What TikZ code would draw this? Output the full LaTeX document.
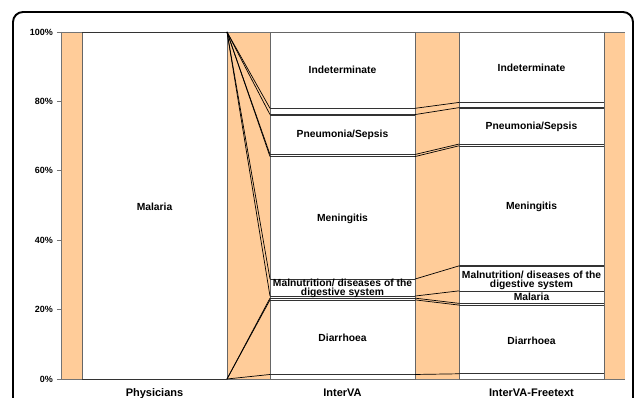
\documentclass[tikz,border=0pt]{standalone}
\usepackage{fontspec}
\setmainfont{Liberation Sans}
\usetikzlibrary{positioning}
\definecolor{gapfill}{HTML}{FFCC99}
\tikzset{
    bar/.style = {draw=black!60, fill=white, line width=0.7pt},
    bline/.style = {draw=black!80, line width=0.6pt},
    sline/.style = {draw=black, line width=0.7pt},
    lbl/.style = {align=center, inner sep=0pt, text centered, font=\bfseries\fontsize{10.3}{8.6}\selectfont},
    ylbl/.style = {anchor=east, inner sep=0pt, font=\bfseries\fontsize{9}{10}\selectfont},
    xlbl/.style = {anchor=north, inner sep=0pt, font=\bfseries\fontsize{11}{12}\selectfont},
    axis/.style = {draw=black!55, line width=0.8pt}
}

\begin{document}
\begin{tikzpicture}[x=1pt, y=3.47pt]
    \useasboundingbox (-61,-5.19) rectangle (573,109.22);
    \draw[line width=1.9pt, rounded corners=10pt] (-48,-20) -- (-48,105.76) -- (572,105.76) -- (572,-20);
    \fill[gapfill] (0,0) rectangle (564,100);
    \draw[axis] (0,100) -- (0,0) -- (564,0);
    \draw[axis] (0,100) -- (564,100);
    \foreach \t in {0,20,...,100} {
        \draw[axis] (-4,\t) -- (0,\t);
        \node[ylbl] (tick\t) at (-8,\t) {\t\%};
    }
    \foreach \xl/\vals in {21/{0,100},
                           209/{1.3,22.8,23.3,23.9,28.8,64.1,64.7,76.0,76.3,78.0},
                           398/{1.5,21.3,21.8,25.4,32.4,32.7,67.2,67.7,78.0,78.3,79.7}} {
        \draw[bar] (\xl,0) rectangle ++(145,100);
        \foreach \v in \vals {
            \draw[bline] (\xl,\v) -- ++(145,0);
        }
    }
    \foreach \p/\i/\f [count=\k] in {0/1.3/1.5, 0/22.8/21.3, 0/23.3/21.8, 100/23.9/25.4, 100/28.8/32.6,
                                     100/64.1/67.2, 100/64.7/67.7, 100/76.2/78.2, 100/78.0/79.7} {
        \coordinate (phy\k) at (166,\p);
        \coordinate (ivl\k) at (209,\i);
        \coordinate (ivr\k) at (354,\i);
        \coordinate (ftl\k) at (398,\f);
        \draw[sline] (phy\k) -- (ivl\k);
        \draw[sline] (ivr\k) -- (ftl\k);
    }
    \node[lbl] (phyMal) at (93.5,49.6) {Malaria};
    \node[lbl] (ivInd) at (281.5,89.0) {Indeterminate};
    \node[lbl] (ivPne) at (281.5,70.3) {Pneumonia/Sepsis};
    \node[lbl] (ivMen) at (281.5,46.1) {Meningitis};
    \node[lbl] (ivMaln) at (281.5,26.2) {Malnutrition/ diseases of the\\digestive system};
    \node[lbl] (ivDia) at (281.5,11.8) {Diarrhoea};
    \node[lbl] (ftInd) at (470.5,89.6) {Indeterminate};
    \node[lbl] (ftPne) at (470.5,72.6) {Pneumonia/Sepsis};
    \node[lbl] (ftMen) at (470.5,49.6) {Meningitis};
    \node[lbl] (ftMaln) at (470.5,28.5) {Malnutrition/ diseases of the\\digestive system};
    \node[lbl] (ftMal) at (470.5,23.6) {Malaria};
    \node[lbl] (ftDia) at (470.5,11.0) {Diarrhoea};
    \node[xlbl] (catPhy) at (93.5,-2.74) {Physicians};
    \node[xlbl] (catIv) at (281.5,-2.74) {InterVA};
    \node[xlbl] (catFt) at (470.5,-2.74) {InterVA-Freetext};
\end{tikzpicture}
\end{document}
